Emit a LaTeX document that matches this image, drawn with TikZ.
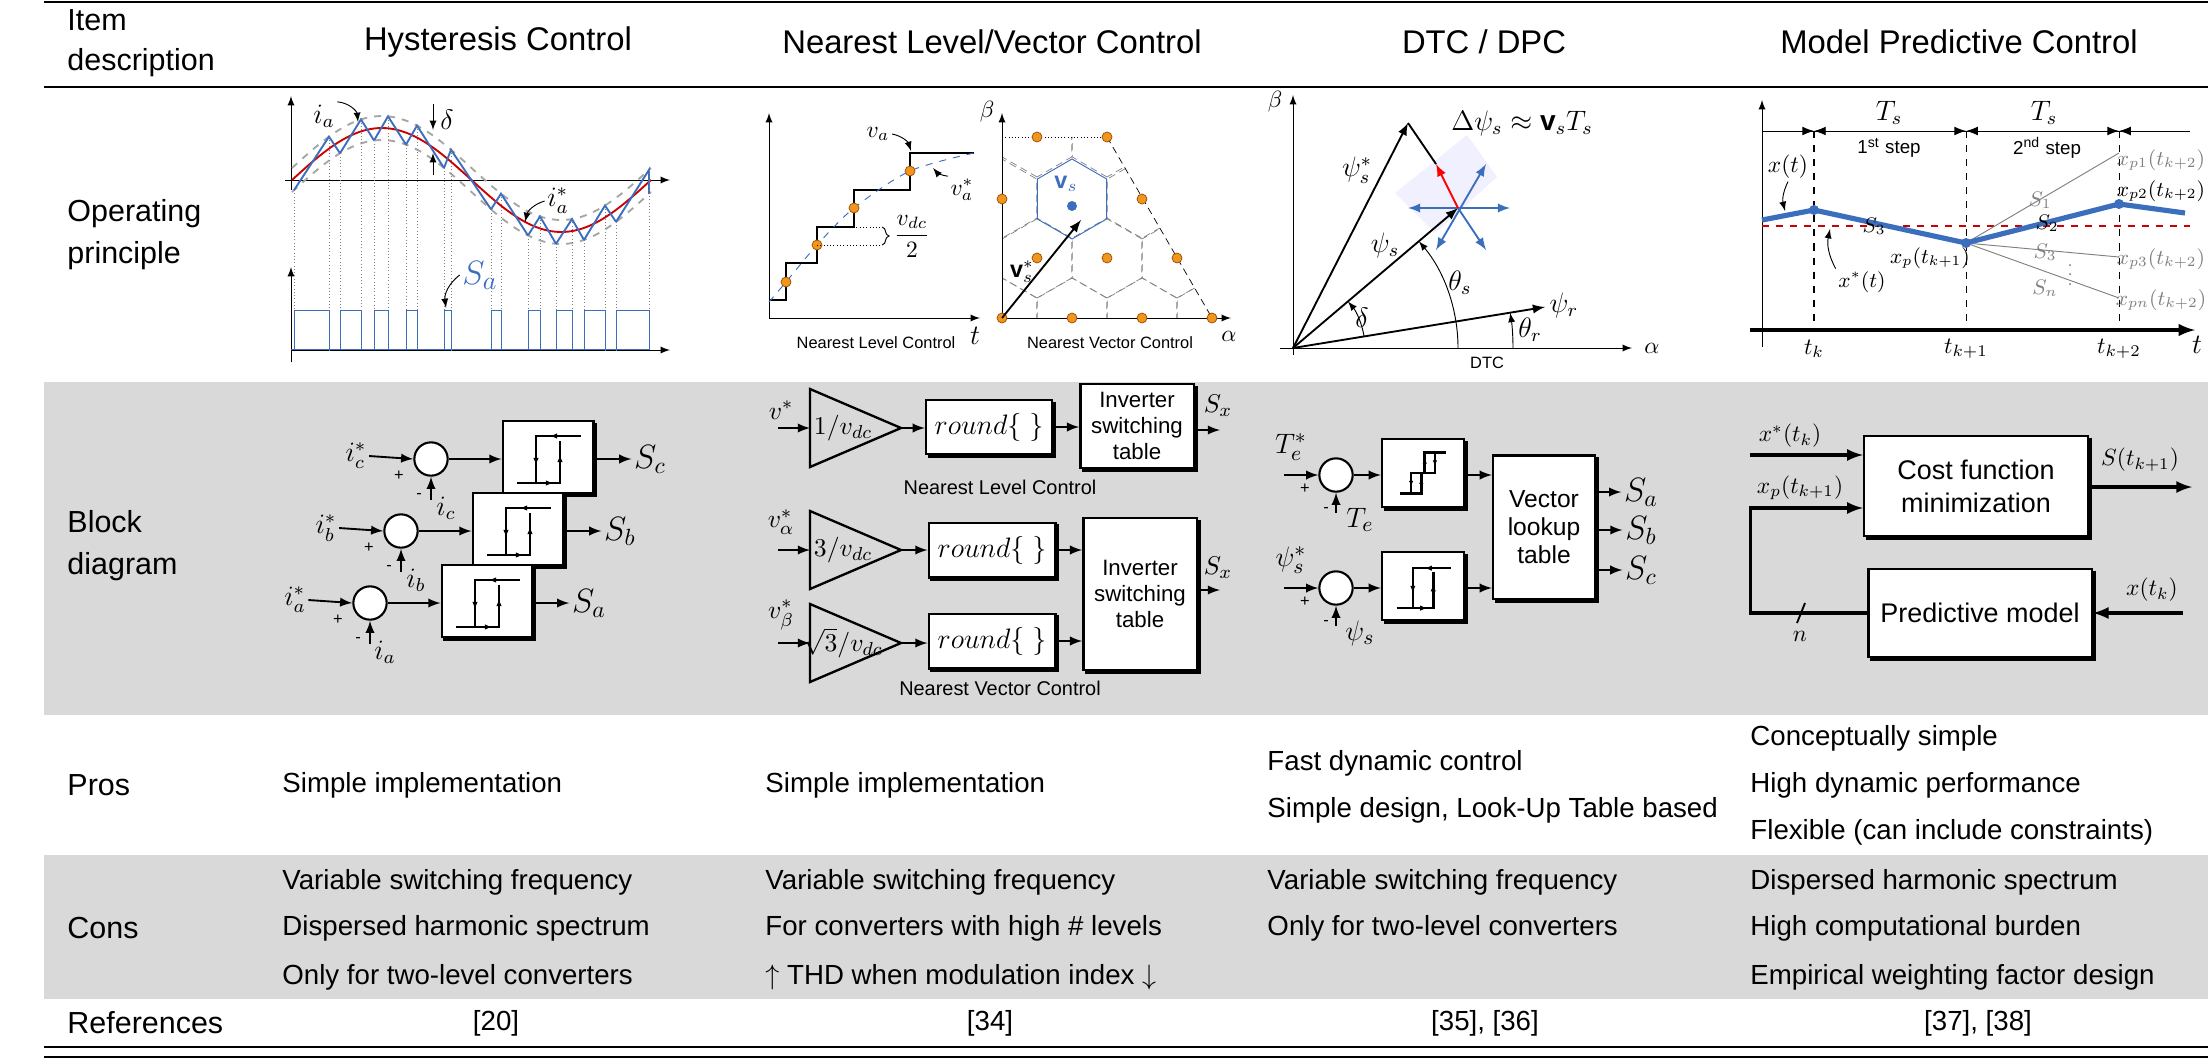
\documentclass[tikz,border=0pt]{standalone}
\usepackage{fontspec}
\setmainfont{Liberation Sans}
\usepackage{amsmath}
\usepackage{amssymb}
\usetikzlibrary{arrows.meta}
\usetikzlibrary{calc}
\usetikzlibrary{positioning}
\usetikzlibrary{shadows}
\usetikzlibrary{decorations.pathreplacing}
\tikzset{>=latex}
\definecolor{rowgray}{RGB}{217,217,217}
\definecolor{dotorange}{RGB}{240,150,30}
\definecolor{lineblue}{RGB}{60,110,190}
\colorlet{bandgray}{gray!70}
\newcommand{\ysf}[1]{(180-52*sin(((#1)-292)*1.002786))}
\tikzset{txt/.style = {anchor=west,inner sep=0,font=\fontsize{11.8}{14}\selectfont}}
\tikzset{head/.style = {inner sep=0,font=\fontsize{14}{16}\selectfont}}
\tikzset{lbl/.style = {inner sep=1pt,font=\fontsize{12}{14}\selectfont}}
\tikzset{small/.style = {inner sep=0,font=\fontsize{7}{8}\selectfont}}
\tikzset{odot/.style = {circle,fill=dotorange,draw=orange!60!black,line width=0.3pt,inner sep=0,minimum size=1.5mm}}
\tikzset{sumc/.style = {circle,draw,fill=white,line width=0.9pt,minimum size=5mm,inner sep=0}}
\tikzset{hbox/.style = {draw,fill=white,line width=1pt,minimum width=13.6mm,minimum height=10.8mm,
                        copy shadow={shadow xshift=1.2pt,shadow yshift=-1.2pt,fill=black,draw=black}}}
\tikzset{blk/.style = {draw,fill=white,line width=1pt,align=center,inner sep=1pt,
                        copy shadow={shadow xshift=1.2pt,shadow yshift=-1.2pt,fill=black,draw=black}}}
\tikzset{hyst/.pic = {
  \draw[line width=1.1pt] (-12,26) -- (-12,-21) -- (33,-21);
  \draw[line width=1.1pt] (-31,26) -- (12,26) -- (12,-16);
  \draw[-{Latex[length=3pt]}] (14,-21) -- (2,-21);
  \draw[-{Latex[length=3pt]}] (-12,-5) -- (-12,8);
  \draw[-{Latex[length=3pt]}] (12,12) -- (12,-2);
  \draw[-{Latex[length=3pt]}] (-8,26) -- (5,26);}}
\tikzset{hystthree/.pic = {
  \draw[line width=1.1pt] (-27,24) -- (-2,24) -- (-2,0) -- (14,0) -- (14,-24) -- (27,-24);
  \draw[line width=1.1pt] (-14,24) -- (-14,0) -- (2,0) -- (2,-24) -- (14,-24);
  \draw[-{Latex[length=2.5pt]}] (-14,6) -- (-14,16);
  \draw[-{Latex[length=2.5pt]}] (-2,16) -- (-2,6);
  \draw[-{Latex[length=2.5pt]}] (2,-8) -- (2,-18);
  \draw[-{Latex[length=2.5pt]}] (14,-18) -- (14,-8);}}

\begin{document}
\begin{tikzpicture}[x=0.15mm,y=-0.15mm]
\useasboundingbox (0,0) rectangle (2208,1058);
% table frame
\fill[rowgray] (44,382) rectangle (2208,715);
\fill[rowgray] (44,855) rectangle (2208,999);
\draw[line width=0.8pt] (44,2) -- (2208,2);
\draw[line width=0.8pt] (44,87) -- (2208,87);
\draw[line width=1.2pt] (44,1047) -- (2208,1047);
\draw[line width=1.2pt] (44,1057) -- (2208,1057);

% header
\node[txt,align=left,font=\fontsize{13}{17}\selectfont] (hItem) at (67,43) {Item\\description};
\node[head] (hHys) at (498,42) {Hysteresis Control};
\node[head] (hNear) at (992,42) {Nearest Level/Vector Control};
\node[head] (hDtc) at (1484,42) {DTC / DPC};
\node[head] (hMpc) at (1959,42) {Model Predictive Control};

% row labels
\node[txt,align=left,font=\fontsize{13}{18}\selectfont] (lOp) at (67,235) {Operating\\principle};
\node[txt,align=left,font=\fontsize{13}{18}\selectfont] (lBd) at (67,546) {Block\\diagram};
\node[txt,font=\fontsize{13}{14}\selectfont] (lPros) at (67,785) {Pros};
\node[txt,font=\fontsize{13}{14}\selectfont] (lCons) at (67,928) {Cons};
\node[txt,font=\fontsize{13}{14}\selectfont] (lRef) at (67,1023) {References};

% pros
\node[txt] (p1) at (282,785) {Simple implementation};
\node[txt] (p2) at (765,785) {Simple implementation};
\node[txt] (p3a) at (1267,763) {Fast dynamic control};
\node[txt] (p3b) at (1267,810) {Simple design, Look-Up Table based};
\node[txt] (p4a) at (1750,738) {Conceptually simple};
\node[txt] (p4b) at (1750,785) {High dynamic performance};
\node[txt] (p4c) at (1750,832) {Flexible (can include constraints)};
% cons
\node[txt] (c1a) at (282,882) {Variable switching frequency};
\node[txt] (c1b) at (282,928) {Dispersed harmonic spectrum};
\node[txt] (c1c) at (282,977) {Only for two-level converters};
\node[txt] (c2a) at (765,882) {Variable switching frequency};
\node[txt] (c2b) at (765,928) {For converters with high \# levels};
\node[txt] (c2c) at (765,977) {$\uparrow$ THD when modulation index $\downarrow$};
\node[txt] (c3a) at (1267,882) {Variable switching frequency};
\node[txt] (c3b) at (1267,928) {Only for two-level converters};
\node[txt] (c4a) at (1750,882) {Dispersed harmonic spectrum};
\node[txt] (c4b) at (1750,928) {High computational burden};
\node[txt] (c4c) at (1750,977) {Empirical weighting factor design};
% references
\node[txt,anchor=center] (r1) at (496,1023) {[20]};
\node[txt,anchor=center] (r2) at (990,1023) {[34]};
\node[txt,anchor=center] (r3) at (1485,1023) {[35], [36]};
\node[txt,anchor=center] (r4) at (1978,1023) {[37], [38]};

% ---- hysteresis principle
\draw[->,thin] (291,190) -- (291,96);
\draw[->,thin] (285,180) -- (670,180);
\draw[->,thin] (291,362) -- (291,267);
\draw[->,thin] (291,350) -- (670,350);
\draw[bandgray,dashed,thick] plot[domain=292:651,samples=80] (\x,{\ysf{\x}-12});
\draw[bandgray,dashed,thick] plot[domain=292:651,samples=80] (\x,{\ysf{\x}+12});
\draw[red!80!black,thick] plot[domain=292:651,samples=80] (\x,{\ysf{\x}});
\foreach \a/\b/\c in {294/329/340,340/361/374,374/388/406,406/417/444,444/451/491,491/501/528,528/540/556,556/572/584,584/605/616,616/649/649}{
  \draw[lineblue,thick] (\a,{\ysf{\a}+12}) -- (\b,{\ysf{\b}-12}) -- (\c,{\ysf{\c}+12});
  \draw[gray,densely dotted] (\a,{\ysf{\a}+12}) -- (\a,350);
  \draw[gray,densely dotted] (\b,{\ysf{\b}-12}) -- (\b,350);
  \draw[lineblue] (\a,350) -- (\a,310) -- (\b,310) -- (\b,350);
}
\draw[lineblue] (291,349) -- (649,349);
\node[lbl] (ia) at (324,116) {$i_a$};
\draw[->] (ia.north east) to[bend left=40] (358,122);
\node[lbl] (dl) at (447,120) {$\delta$};
\draw[->] (433,104) -- (433,130);
\draw[->] (433,175) -- (433,153);
\node[lbl] (iar) at (558,201) {$i_a^*$};
\draw[->] (iar.west) to[bend right=30] (525,222);
\node[lbl,text=lineblue,font=\fontsize{15}{16}\selectfont] (Sa) at (480,275) {$S_a$};
\draw[->] (Sa.west) to[bend right=30] (446,308);

% ---- nearest level principle
\draw[->,thin] (769,318) -- (769,113);
\draw[->,thin] (769,318) -- (980,318);
\node[lbl] (tL) at (975,336) {$t$};
\draw[thick] (769,300) -- (786,300) -- (786,263) -- (817,263) -- (817,227) -- (854,227)
             -- (854,190) -- (910,190) -- (910,153) -- (974,153);
\draw[lineblue,dashed] plot[smooth] coordinates {(769,302) (786,282) (817,245) (854,208) (910,171) (974,153)};
\foreach \px/\py in {786/282,817/245,854/208,910/171}
  \node[odot] at (\px,\py) {};
\draw[densely dotted] (817,227) -- (880,227);
\draw[densely dotted] (817,245) -- (880,245);
\draw[decorate,decoration={brace,amplitude=3pt}] (882,227) -- (882,245);
\node[lbl,font=\fontsize{10}{12}\selectfont] (vdc) at (912,236) {$\dfrac{v_{dc}}{2}$};
\node[lbl,font=\fontsize{10}{12}\selectfont] (va) at (878,134) {$v_a$};
\draw[->] (va.east) to[bend left=30] (911,151);
\node[lbl,font=\fontsize{10}{12}\selectfont] (var) at (962,190) {$v_a^*$};
\draw[->] (var.north west) to[bend left=20] (933,168);
\node[small] (nlc) at (876,343) {Nearest Level Control};

% ---- nearest vector principle
\begin{scope}
\clip (1002,318) -- (1002,137) -- (1107,137) -- (1212,318) -- cycle;
\foreach \hx/\hy in {1002/318,1072/318,1142/318,1212/318,1037/258,1107/258,1177/258,1002/199,1142/199,1037/137,1107/137}
  \draw[gray,densely dashed,line width=0.3pt] (\hx,\hy) +(90:40) -- +(150:40) -- +(210:40) -- +(270:40) -- +(330:40) -- +(30:40) -- cycle;
\end{scope}
\draw[densely dotted] (1002,137) -- (1107,137);
\draw[densely dashed,line width=0.3pt] (1107,137) -- (1212,318);
\draw[lineblue,line width=0.4pt] (1072,199) +(90:40) -- +(150:40) -- +(210:40) -- +(270:40) -- +(330:40) -- +(30:40) -- cycle;
\draw[->,thin] (1002,318) -- (1002,113);
\draw[->,thin] (1002,318) -- (1231,318);
\node[lbl,font=\fontsize{10}{12}\selectfont] (bNV) at (987,112) {$\beta$};
\node[lbl,font=\fontsize{10}{12}\selectfont] (aNV) at (1229,336) {$\alpha$};
\foreach \px/\py in {1002/318,1072/318,1142/318,1212/318,1037/258,1107/258,1177/258,1002/199,1142/199,1037/137,1107/137}
  \node[odot] at (\px,\py) {};
\node[circle,fill=lineblue,inner sep=0,minimum size=1.5mm] (vs) at (1072,206) {};
\node[lbl,text=lineblue,font=\fontsize{10}{12}\selectfont] (vsl) at (1066,184) {$\mathbf{v}_s$};
\coordinate (Onv) at (1002,318);
\coordinate (vsr) at (1081,220);
\draw[->,thick] (Onv) -- (vsr);
\node[lbl,font=\fontsize{10}{12}\selectfont] (vsrl) at (1022,272) {$\mathbf{v}_s^*$};
\node[small] (nvc) at (1110,343) {Nearest Vector Control};

% ---- DTC principle
\coordinate (O) at (1293,348);
\coordinate (psr) at (1545,307);
\coordinate (pss) at (1458,208);
\coordinate (pssr) at (1408,123);
\coordinate (dpt) at (1436,164);
\fill[blue!6] (1395,193) -- (1467,135) -- (1497,177) -- (1435,233) -- cycle;
\draw[->,thin] (1280,348) -- (1632,348);
\draw[->,thin] (1293,355) -- (1293,95);
\node[lbl,font=\fontsize{10}{12}\selectfont] (bD) at (1275,102) {$\beta$};
\node[lbl,font=\fontsize{10}{12}\selectfont] (aD) at (1652,348) {$\alpha$};
\draw[->,thick] (O) -- (pssr);
\draw[->,thick] (O) -- (pss);
\draw[->,thick] (O) -- (psr);
\draw[thick] (pssr) -- (dpt);
\draw[lineblue,thick,<->] (1408,208) -- (1510,208);
\draw[lineblue,thick,<->] (1436,250) -- (1486,164);
\draw[lineblue,thick,->] (pss) -- (1486,250);
\draw[red,thick,->] (pss) -- (dpt);
\draw[->] ($(O)+(165,0)$) arc[start angle=0,end angle=-40.3,radius=165];
\draw[->] ($(O)+(220,0)$) arc[start angle=0,end angle=-9.2,radius=220];
\draw[->] ($(O)+(-9.2:72)$) arc[start angle=-9.2,end angle=-40.3,radius=72];
\node[lbl] (dps) at (1522,123) {$\Delta\psi_s \approx \mathbf{v}_s T_s$};
\node[lbl] (lpsr) at (1357,170) {$\psi_s^*$};
\node[lbl] (lps) at (1385,245) {$\psi_s$};
\node[lbl] (lts) at (1460,283) {$\theta_s$};
\node[lbl] (ldl) at (1362,318) {$\delta$};
\node[lbl] (lpr) at (1564,305) {$\psi_r$};
\node[lbl] (ltr) at (1530,330) {$\theta_r$};
\node[small] (dtc) at (1487,363) {DTC};

% ---- MPC principle
\draw[->,thin] (1762,347) -- (1762,100);
\draw[->,line width=1.4pt] (1750,330) -- (2195,330);
\node[lbl] (tM) at (2197,345) {$t$};
\draw[thin] (1762,131) -- (2190,131);
\foreach \tx/\tl in {1814/t_k,1966/t_{k+1},2119/t_{k+2}}{
  \draw[-{Latex[length=5pt]}] (\tx-22,131) -- (\tx,131);
  \draw[-{Latex[length=5pt]}] (\tx+22,131) -- (\tx,131);
  \node[lbl,font=\fontsize{10}{12}\selectfont] at (\tx,349) {$\tl$};
}
\draw[dashed,thick] (1814,131) -- (1814,330);
\draw[dashed,thin] (1966,131) -- (1966,330);
\draw[dashed,thin] (2119,131) -- (2119,330);
\node[lbl] (Ts1) at (1889,113) {$T_s$};
\node[lbl] (Ts2) at (2044,113) {$T_s$};
\node[small,font=\fontsize{8}{9}\selectfont] (st1) at (1889,148) {1\textsuperscript{st} step};
\node[small,font=\fontsize{8}{9}\selectfont] (st2) at (2047,148) {2\textsuperscript{nd} step};
\draw[red!80!black,dashed,line width=1.2pt] (1762,226) -- (2190,226);
\coordinate (xb) at (1966,243);
\draw[gray] (xb) -- (2119,153);
\draw[gray] (xb) -- (2119,257);
\draw[gray] (xb) -- (2119,298);
\draw[lineblue,line width=2.2pt] (1762,220) -- (1814,210) -- (xb) -- (2119,204) -- (2185,213);
\foreach \px/\py in {1814/210,1966/243,2119/204}
  \fill[lineblue] (\px,\py) circle (5);
\node[lbl,font=\fontsize{9}{10}\selectfont,text=gray] at (2161,160) {$x_{p1}(t_{k+2})$};
\node[lbl,font=\fontsize{9}{10}\selectfont] at (2161,191) {$x_{p2}(t_{k+2})$};
\node[lbl,font=\fontsize{9}{10}\selectfont,text=gray] at (2161,259) {$x_{p3}(t_{k+2})$};
\node[lbl,font=\fontsize{9}{10}\selectfont,text=gray] at (2161,300) {$x_{pn}(t_{k+2})$};
\node[lbl,font=\fontsize{9}{10}\selectfont,text=gray] at (2040,200) {$S_1$};
\node[lbl,font=\fontsize{9}{10}\selectfont] at (2047,223) {$S_2$};
\node[lbl,font=\fontsize{9}{10}\selectfont,text=gray] at (2045,252) {$S_3$};
\node[lbl,font=\fontsize{9}{10}\selectfont,text=gray] at (2045,288) {$S_n$};
\node[inner sep=0,font=\fontsize{7}{8}\selectfont,text=gray] at (2070,268) {$\vdots$};
\node[lbl,font=\fontsize{9}{10}\selectfont] at (1874,226) {$S_3$};
\node[lbl,font=\fontsize{10}{12}\selectfont] (xtl) at (1788,167) {$x(t)$};
\draw[->] (xtl.south) to[bend right=20] (1785,211);
\node[lbl,font=\fontsize{9}{11}\selectfont] (xsl) at (1862,282) {$x^*(t)$};
\draw[->] (xsl.north west) to[bend left=20] (1830,229);
\node[lbl,font=\fontsize{9}{11}\selectfont] (xpl) at (1930,258) {$x_p(t_{k+1})$};

% ---- hysteresis block diagram
\foreach \ph/\dx/\dy in {c/0/0,b/-30/72,a/-61/144}{
  \node[sumc] (s\ph) at (431+\dx,459+\dy) {};
  \node[hbox] (h\ph) at (548+\dx,457+\dy) {};
  \pic at (h\ph) {hyst};
  \node[lbl] (ri\ph) at (356+\dx,456+\dy) {$i_\ph^*$};
  \coordinate (fb\ph) at (431+\dx,500+\dy);
  \node[lbl] (fl\ph) at (446+\dx,508+\dy) {$i_\ph$};
  \node[inner sep=0,font=\scriptsize] at (419+\dx,496+\dy) {-};
  \node[inner sep=0,font=\scriptsize] at (399+\dx,476+\dy) {+};
  \node[lbl,font=\fontsize{14}{16}\selectfont] (o\ph) at (650+\dx,459+\dy) {$S_\ph$};
  \draw[->,thick] (ri\ph.east) -- (s\ph.west);
  \draw[->,thick] (fb\ph) -- (s\ph.south);
  \draw[->,thick] (s\ph.east) -- (s\ph.east -| h\ph.west);
  \draw[->,thick] (h\ph.east |- o\ph) -- (o\ph.west);
}

% ---- nearest level / vector block diagram
\node[lbl,font=\fontsize{11}{12}\selectfont] (vi1) at (781,410) {$v^*$};
\node[lbl,font=\fontsize{11}{12}\selectfont] (vi2) at (781,522) {$v_\alpha^*$};
\node[lbl,font=\fontsize{11}{12}\selectfont] (vi3) at (781,615) {$v_\beta^*$};
\foreach \n/\yt/\gt in {1/428/{1/v_{dc}},2/550/{3/v_{dc}},3/643/{\sqrt{3}/v_{dc}}}{
  \draw[line width=1pt] (810,\yt-39) -- (901,\yt) -- (810,\yt+39) -- cycle;
  \coordinate (gi\n) at (810,\yt);
  \coordinate (go\n) at (901,\yt);
  \coordinate (ga\n) at (778,\yt);
  \node[lbl,font=\fontsize{11}{12}\selectfont] at (843,\yt) {$\gt$};
  \draw[->,thick] (ga\n) -- (gi\n);
}
\node[blk,minimum width=18.9mm,minimum height=8.1mm,font=\fontsize{12}{14}\selectfont] (rd1) at (989,427) {$round\{\ \}$};
\node[blk,minimum width=19mm,minimum height=8.2mm,font=\fontsize{12}{14}\selectfont] (rd2) at (992,550) {$round\{\ \}$};
\node[blk,minimum width=19mm,minimum height=8.2mm,font=\fontsize{12}{14}\selectfont] (rd3) at (992,641) {$round\{\ \}$};
\node[blk,minimum width=17mm,minimum height=12.6mm,font=\fontsize{9.5}{11}\selectfont] (inv1) at (1137,426) {Inverter\\switching\\table};
\node[blk,minimum width=17mm,minimum height=22.8mm,font=\fontsize{9.5}{11}\selectfont] (inv2) at (1140,594) {Inverter\\switching\\table};
\draw[->,thick] (go1) -- (rd1.west |- go1);
\draw[->,thick] (go2) -- (rd2.west |- go2);
\draw[->,thick] (go3) -- (rd3.west |- go3);
\draw[->,thick] (rd1.east) -- (rd1.east -| inv1.west);
\draw[->,thick] (rd2.east) -- (rd2.east -| inv2.west);
\draw[->,thick] (rd3.east) -- (rd3.east -| inv2.west);
\node[lbl,font=\fontsize{11}{12}\selectfont] (sx1) at (1218,406) {$S_x$};
\node[lbl,font=\fontsize{11}{12}\selectfont] (sx2) at (1218,568) {$S_x$};
\coordinate (ox1) at (1220,430);
\coordinate (ox2) at (1220,590);
\draw[->,thick] (inv1.east |- ox1) -- (ox1);
\draw[->,thick] (inv2.east |- ox2) -- (ox2);
\node[small,font=\fontsize{8.5}{10}\selectfont] (nlcb) at (1000,487) {Nearest Level Control};
\node[small,font=\fontsize{8.5}{10}\selectfont] (nvcb) at (1000,688) {Nearest Vector Control};

% ---- DTC block diagram
\node[blk,minimum width=15.3mm,minimum height=21.5mm,font=\fontsize{10.5}{12}\selectfont] (vlt) at (1544,527) {Vector\\lookup\\table};
\foreach \n/\yy/\ri/\fb/\pn in {T/475/T_e^*/T_e/hystthree,P/588/\psi_s^*/\psi_s/hyst}{
  \node[sumc] (s\n) at (1336,\yy) {};
  \node[hbox,minimum width=12.3mm,minimum height=10.2mm] (h\n) at (1423,\yy-2) {};
  \pic[scale=0.85] at (h\n) {\pn};
  \coordinate (in\n) at (1284,\yy);
  \coordinate (fb\n) at (1336,\yy+38);
  \node[lbl,font=\fontsize{13}{14}\selectfont] at (1291,\yy-28) {$\ri$};
  \node[lbl,font=\fontsize{13}{14}\selectfont] at (1360,\yy+45) {$\fb$};
  \node[inner sep=0,font=\scriptsize] at (1305,\yy+14) {+};
  \node[inner sep=0,font=\scriptsize] at (1326,\yy+35) {-};
  \draw[->,thick] (in\n) -- (s\n.west);
  \draw[->,thick] (fb\n) -- (s\n.south);
  \draw[->,thick] (s\n.east) -- (s\n.east -| h\n.west);
  \draw[->,thick] (h\n.east |- s\n) -- (s\n -| vlt.west);
}
\foreach \s/\yy in {a/492,b/530,c/570}{
  \node[lbl,font=\fontsize{14}{16}\selectfont] (oS\s) at (1641,\yy) {$S_\s$};
  \draw[->,thick] (vlt.east |- oS\s) -- (oS\s.west);
}

% ---- MPC block diagram
\node[blk,minimum width=33.6mm,minimum height=15mm,font=\fontsize{11.5}{14}\selectfont] (cost) at (1976,486) {Cost function\\minimization};
\node[blk,minimum width=33.5mm,minimum height=13.2mm,font=\fontsize{11.5}{14}\selectfont] (pred) at (1980,613) {Predictive model};
\coordinate (xin) at (1750,455);
\coordinate (fbk) at (1750,508);
\coordinate (fbc) at (1750,613);
\coordinate (sEnd) at (2192,487);
\coordinate (xk) at (2183,613);
\node[lbl,font=\fontsize{10}{12}\selectfont] (xsk) at (1790,436) {$x^*(t_k)$};
\node[lbl,font=\fontsize{10}{12}\selectfont] (xpk) at (1800,488) {$x_p(t_{k+1})$};
\node[lbl,font=\fontsize{10}{12}\selectfont] (sk) at (2140,460) {$S(t_{k+1})$};
\node[lbl,font=\fontsize{10}{12}\selectfont] (xtk) at (2152,590) {$x(t_k)$};
\draw[->,line width=1.3pt] (xin) -- (xin -| cost.west);
\draw[->,line width=1.3pt] (pred.west) -- (fbc) -- (fbk) -- (fbk -| cost.west);
\draw[->,line width=1.3pt] (cost.east |- sEnd) -- (sEnd);
\draw[->,line width=1.3pt] (xk) -- (pred.east);
\draw[thick] (1797,623) -- (1805,603);
\node[lbl,font=\fontsize{10}{12}\selectfont] (nlab) at (1800,636) {$n$};
\end{tikzpicture}
\end{document}
